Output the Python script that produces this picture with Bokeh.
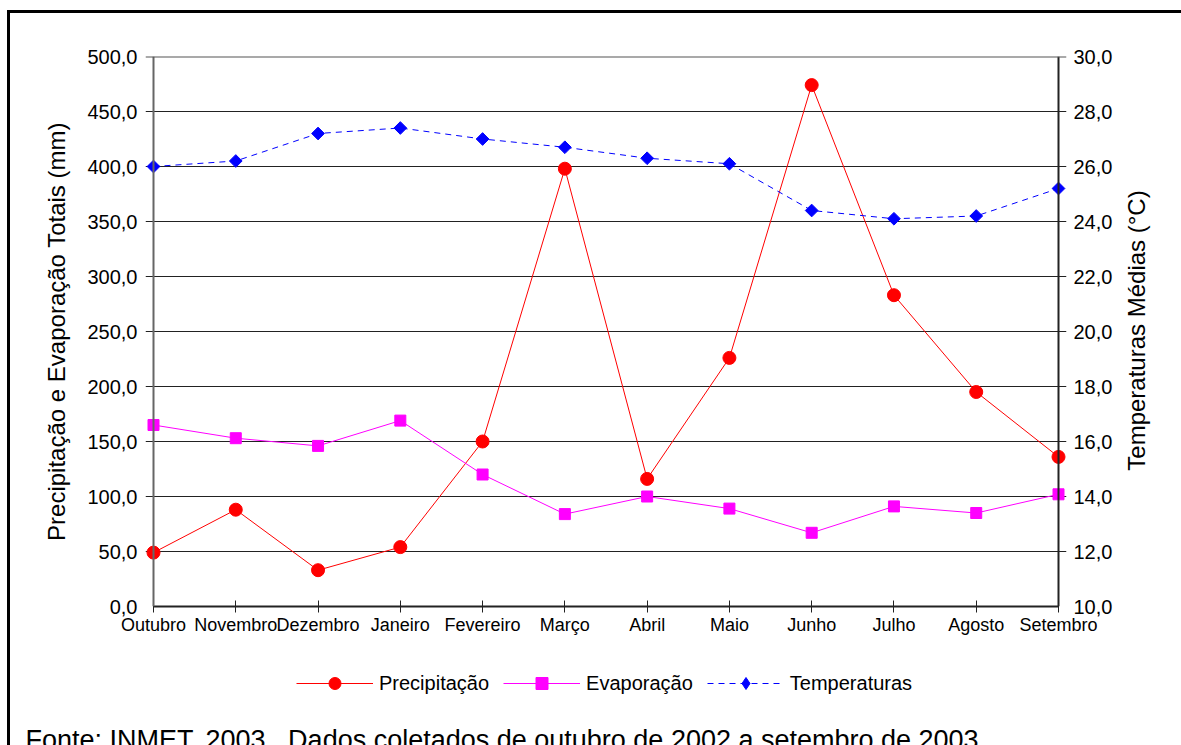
import math
from bokeh.plotting import figure
from bokeh.layouts import column, row
from bokeh.models import (Range1d, LinearAxis, FixedTicker, CustomJSTickFormatter,
                          Legend, LegendItem, Span, Label)
from bokeh.embed import file_html
from bokeh.resources import INLINE

months = ["Outubro", "Novembro", "Dezembro", "Janeiro", "Fevereiro", "Março",
          "Abril", "Maio", "Junho", "Julho", "Agosto", "Setembro"]
precipitacao = [49, 88, 33, 54, 150, 398, 116, 226, 474, 283, 195, 136]
evaporacao = [165, 153, 146, 169, 120, 84, 100, 89, 67, 91, 85, 102]
temperaturas = [26.0, 26.2, 27.2, 27.4, 27.0, 26.7, 26.3, 26.1, 24.4, 24.1, 24.2, 25.2]
left_ticks = [0, 50, 100, 150, 200, 250, 300, 350, 400, 450, 500]
right_ticks = [10, 12, 14, 16, 18, 20, 22, 24, 26, 28, 30]
series_names = ["Precipitação", "Evaporação", "Temperaturas"]
left_title = "Precipitação e Evaporação Totais (mm)"
right_title = "Temperaturas Médias (°C)"
footnote = "Fonte: INMET, 2003.\u00a0 Dados coletados de outubro de 2002 a setembro de 2003."

FONT = "Liberation Sans"
RED, MAGENTA, BLUE = "#FF0000", "#FF00FF", "#0000FF"
DASH = "6 5"
xs = list(range(len(months)))

# frame extends 8 px beyond the first/last category so edge markers are not clipped
pad = 8 / (905 / (len(months) - 1))

p = figure(width=1120, height=645, output_backend="svg", toolbar_location=None,
           x_range=Range1d(xs[0] - pad, xs[-1] + pad), y_range=Range1d(0, 500),
           min_border_left=145, min_border_right=54, min_border_top=56, min_border_bottom=39)
p.frame_align = False
p.outline_line_color = None
p.background_fill_color = "white"
p.border_fill_color = None

p.extra_y_ranges = {"temp": Range1d(10, 30)}

fmt = CustomJSTickFormatter(code="return tick.toFixed(1).replace('.', ',');")

# x axis
xa = p.xaxis[0]
xa.ticker = FixedTicker(ticks=xs)
xa.bounds = (xs[0], xs[-1])
xa.major_label_overrides = {i: m for i, m in enumerate(months)}
xa.major_label_text_font = FONT
xa.major_label_text_font_size = "18px"
xa.major_label_text_color = "black"
xa.major_label_standoff = 2
xa.axis_line_color = "#222222"
xa.axis_line_width = 2
xa.major_tick_in = 6
xa.major_tick_out = 6
xa.major_tick_line_color = "#222222"
xa.minor_tick_line_color = None
p.xgrid.grid_line_color = None

# left axis
ya = p.yaxis[0]
ya.ticker = FixedTicker(ticks=left_ticks)
ya.formatter = fmt
ya.major_label_text_font = FONT
ya.major_label_text_font_size = "20px"
ya.major_label_text_color = "black"
ya.major_label_standoff = 8
ya.axis_label = left_title
ya.axis_label_text_font = FONT
ya.axis_label_text_font_size = "24px"
ya.axis_label_text_font_style = "normal"
ya.axis_label_text_color = "black"
ya.axis_label_standoff = 14
ya.axis_line_color = None
ya.major_tick_in = 0
ya.major_tick_out = 0
ya.minor_tick_line_color = None
p.ygrid.ticker = FixedTicker(ticks=left_ticks)
p.ygrid.grid_line_color = "#222222"
p.ygrid.grid_line_width = 1

# right axis (its title is drawn in the narrow strip to the right)
ra = LinearAxis(y_range_name="temp", ticker=FixedTicker(ticks=right_ticks), formatter=fmt)
ra.major_label_text_font = FONT
ra.major_label_text_font_size = "20px"
ra.major_label_text_color = "black"
ra.major_label_standoff = 7
ra.axis_line_color = None
ra.major_tick_in = 0
ra.major_tick_out = 0
ra.minor_tick_line_color = None
p.add_layout(ra, "right")

# plot-area borders at the first / last category and top gridline
p.add_layout(Span(location=xs[0], dimension="height", line_color="#666666", line_width=2))
p.add_layout(Span(location=xs[-1], dimension="height", line_color="#222222", line_width=2))
p.add_layout(Span(location=left_ticks[-1], dimension="width", line_color="#555555", line_width=2))

# series
p.line(xs, precipitacao, line_color=RED, line_width=1)
p.scatter(xs, precipitacao, marker="circle", size=13, fill_color=RED, line_color=RED)
p.line(xs, evaporacao, line_color=MAGENTA, line_width=1)
p.scatter(xs, evaporacao, marker="square", size=11, fill_color=MAGENTA, line_color=MAGENTA)
p.line(xs, temperaturas, line_color=BLUE, line_width=1, line_dash=DASH, y_range_name="temp")
p.scatter(xs, temperaturas, marker="square", angle=math.pi / 4, size=9,
          fill_color=BLUE, line_color=BLUE, y_range_name="temp")

# right strip: secondary axis title, reading bottom-to-top
r = figure(width=61, height=645, output_backend="svg", toolbar_location=None,
           x_range=Range1d(0, 1), y_range=Range1d(0, 1), x_axis_type=None, y_axis_type=None,
           min_border_left=0, min_border_right=0, min_border_top=0, min_border_bottom=0)
r.frame_align = False
r.outline_line_color = None
r.background_fill_color = None
r.border_fill_color = None
r.grid.grid_line_color = None
r.add_layout(Label(x=16, y=315, x_units="screen", y_units="screen", text=right_title,
                   angle=math.pi / 2, text_align="center", text_baseline="alphabetic",
                   text_font=FONT, text_font_size="24px", text_color="black"))

# lower strip: legend and source note (its ranges keep the series' own glyphs out of view,
# they only supply the legend samples)
q = figure(width=1181, height=100, output_backend="svg", toolbar_location=None,
           x_range=Range1d(100, 101), y_range=Range1d(0, 1), x_axis_type=None, y_axis_type=None,
           min_border_left=0, min_border_right=0, min_border_top=0, min_border_bottom=0)
q.frame_align = False
q.outline_line_color = None
q.background_fill_color = None
q.border_fill_color = None
q.grid.grid_line_color = None

k1l = q.line(xs, precipitacao, line_color=RED, line_width=1)
k1s = q.scatter(xs, precipitacao, marker="circle", fill_color=RED, line_color=RED)
k2l = q.line(xs, evaporacao, line_color=MAGENTA, line_width=1)
k2s = q.scatter(xs, evaporacao, marker="square", fill_color=MAGENTA, line_color=MAGENTA)
k3l = q.line(xs, temperaturas, line_color=BLUE, line_width=1, line_dash=DASH)
k3s = q.scatter(xs, temperaturas, marker="diamond", fill_color=BLUE, line_color=BLUE)

legend = Legend(items=[LegendItem(label=series_names[0], renderers=[k1l, k1s]),
                       LegendItem(label=series_names[1], renderers=[k2l, k2s]),
                       LegendItem(label=series_names[2], renderers=[k3l, k3s])],
                orientation="horizontal", location=(296, 47))
legend.label_text_font = FONT
legend.label_text_font_size = "20px"
legend.label_text_color = "black"
legend.glyph_width = 77
legend.glyph_height = 30
legend.label_standoff = 6
legend.spacing = 14
legend.padding = 0
legend.margin = 0
legend.border_line_color = None
legend.background_fill_alpha = 0
q.add_layout(legend, "center")

q.add_layout(Label(x=25, y=6, x_units="screen", y_units="screen", text=footnote,
                   text_font=FONT, text_font_size="27px", text_color="black",
                   text_baseline="alphabetic"))

page = column(row(p, r, spacing=0), q, spacing=0, styles={
    "background-color": "white",
    "background-image": "linear-gradient(black, black), linear-gradient(black, black)",
    "background-size": "3px 100%, 100% 3px",
    "background-position": "7px 10px, 7px 10px",
    "background-repeat": "no-repeat",
})

open("out.html", "w").write(file_html(page, INLINE))
